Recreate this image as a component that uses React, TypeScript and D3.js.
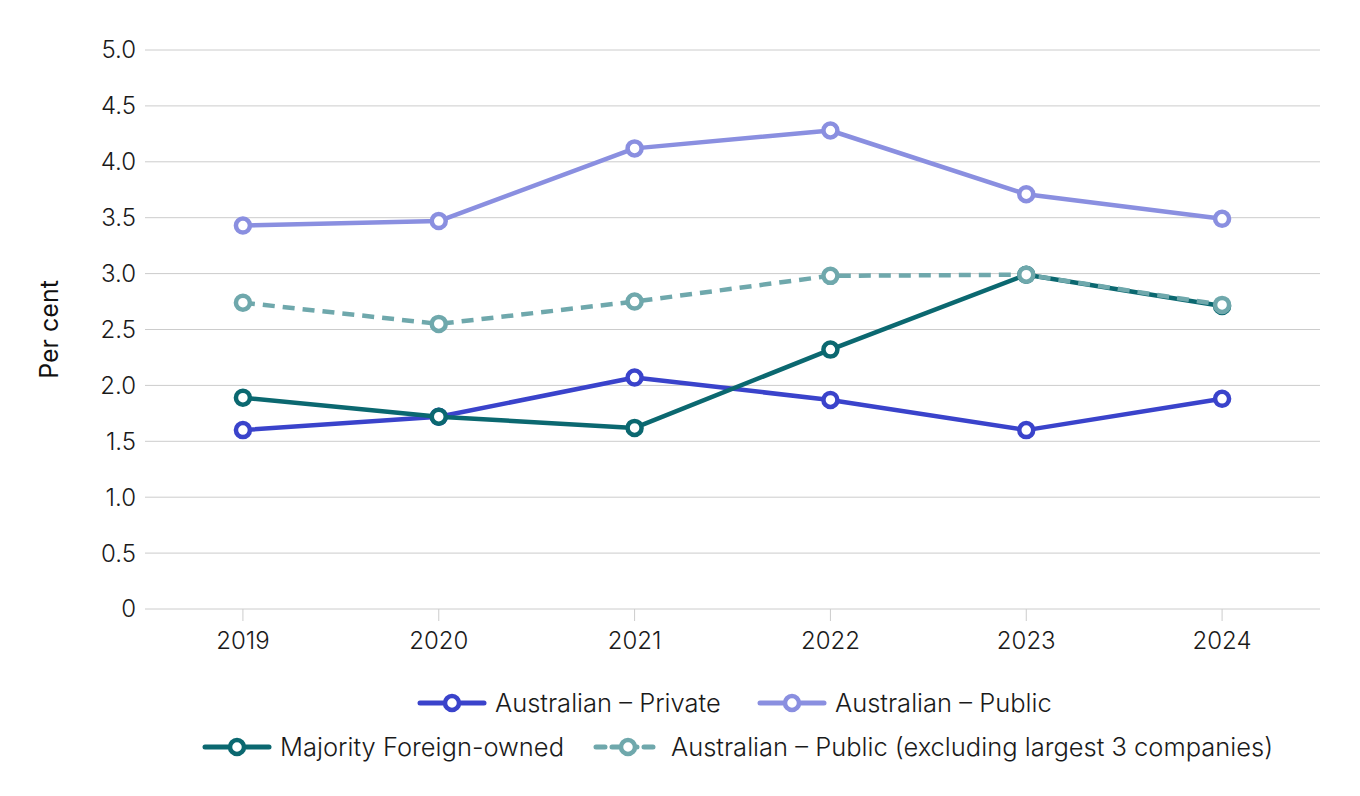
import React, { useEffect, useRef } from 'react';
import * as d3 from 'd3';

const years = ['2019', '2020', '2021', '2022', '2023', '2024'];
const yTicks = [0, 0.5, 1, 1.5, 2, 2.5, 3, 3.5, 4, 4.5, 5];

const privateVals = [1.6, 1.72, 2.07, 1.87, 1.6, 1.88];
const publicVals = [3.43, 3.47, 4.12, 4.28, 3.71, 3.49];
const foreignVals = [1.89, 1.72, 1.62, 2.32, 2.99, 2.71];
const publicExclVals = [2.74, 2.55, 2.75, 2.98, 2.99, 2.72];

const seriesNames = [
  'Australian – Private',
  'Australian – Public',
  'Majority Foreign-owned',
  'Australian – Public (excluding largest 3 companies)',
];
const seriesColors = ['#3a43cb', '#8a8fe0', '#0b6870', '#6fa8ac'];

export default function App() {
  const svgRef = useRef<SVGSVGElement>(null);

  useEffect(() => {
    if (!svgRef.current) return;
    const svg = d3.select(svgRef.current);
    svg.selectAll('*').remove();

    const font = 'Inter, "Noto Sans", sans-serif';
    const left = 145, right = 1320, top = 50, bottom = 609;

    const x = d3.scalePoint<string>().domain(years).range([left, right]).padding(0.5);
    const y = d3.scaleLinear().domain([0, 5]).range([bottom, top]);

    // gridlines
    svg.append('g')
      .selectAll('line')
      .data(yTicks)
      .enter()
      .append('line')
      .attr('x1', left)
      .attr('x2', right)
      .attr('y1', d => y(d))
      .attr('y2', d => y(d))
      .attr('stroke', '#cccccc')
      .attr('stroke-width', 1);

    // y labels
    svg.append('g')
      .selectAll('text')
      .data(yTicks)
      .enter()
      .append('text')
      .attr('x', left - 9)
      .attr('y', d => y(d))
      .attr('dy', '0.35em')
      .attr('text-anchor', 'end')
      .attr('font-family', font)
      .attr('font-size', 24)
      .attr('font-weight', 300)
      .attr('fill', '#1a1a1a')
      .text(d => (d === 0 ? '0' : d.toFixed(1)));

    // x ticks + labels
    const xg = svg.append('g');
    xg.selectAll('line')
      .data(years)
      .enter()
      .append('line')
      .attr('x1', d => x(d)!)
      .attr('x2', d => x(d)!)
      .attr('y1', bottom)
      .attr('y2', bottom + 12)
      .attr('stroke', '#cccccc');
    xg.selectAll('text')
      .data(years)
      .enter()
      .append('text')
      .attr('x', d => x(d)!)
      .attr('y', bottom + 40)
      .attr('text-anchor', 'middle')
      .attr('font-family', font)
      .attr('font-size', 24)
      .attr('font-weight', 300)
      .attr('fill', '#1a1a1a')
      .text(d => d);

    // y title
    svg.append('text')
      .attr('transform', `translate(58,${(top + bottom) / 2}) rotate(-90)`)
      .attr('text-anchor', 'middle')
      .attr('font-family', font)
      .attr('font-size', 25)
      .attr('fill', '#111111')
      .text('Per cent');

    const allVals = [privateVals, publicVals, foreignVals, publicExclVals];
    const line = d3.line<number>().x((_, i) => x(years[i])!).y(d => y(d));

    allVals.forEach((vals, si) => {
      const g = svg.append('g');
      g.append('path')
        .attr('d', line(vals))
        .attr('fill', 'none')
        .attr('stroke', seriesColors[si])
        .attr('stroke-width', 4.5)
        .attr('stroke-linejoin', 'round')
        .attr('stroke-dasharray', si === 3 ? '12,8' : null);
      g.selectAll('circle')
        .data(vals)
        .enter()
        .append('circle')
        .attr('cx', (_, i) => x(years[i])!)
        .attr('cy', d => y(d))
        .attr('r', 7)
        .attr('fill', '#ffffff')
        .attr('stroke', seriesColors[si])
        .attr('stroke-width', 4.5);
    });

    // legend
    const legendItems = [
      { i: 0, x: 420, y: 703 },
      { i: 1, x: 760, y: 703 },
      { i: 2, x: 205, y: 747 },
      { i: 3, x: 596, y: 747 },
    ];
    legendItems.forEach(item => {
      const g = svg.append('g').attr('transform', `translate(${item.x},${item.y})`);
      g.append('line')
        .attr('x1', 0)
        .attr('x2', 64)
        .attr('y1', 0)
        .attr('y2', 0)
        .attr('stroke', seriesColors[item.i])
        .attr('stroke-width', 5)
        .attr('stroke-linecap', 'round')
        .attr('stroke-dasharray', item.i === 3 ? '9,7' : null);
      g.append('circle')
        .attr('cx', 32)
        .attr('cy', 0)
        .attr('r', 7)
        .attr('fill', '#ffffff')
        .attr('stroke', seriesColors[item.i])
        .attr('stroke-width', 4.5);
      g.append('text')
        .attr('x', 75)
        .attr('y', 0)
        .attr('dy', '0.35em')
        .attr('font-family', font)
        .attr('font-size', 25.5)
        .attr('font-weight', 300)
        .attr('fill', '#1a1a1a')
        .text(seriesNames[item.i]);
    });
  }, []);

  return (
    <svg
      ref={svgRef}
      width={1360}
      height={796}
      style={{ position: 'absolute', left: 0, top: 0, background: '#ffffff' }}
    />
  );
}
